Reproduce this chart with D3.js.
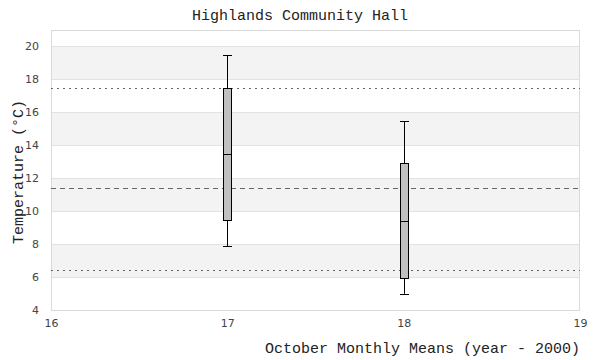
<!DOCTYPE html>
<html>
<head>
<meta charset="utf-8">
<script src="https://cdn.jsdelivr.net/npm/d3@7"></script>
<style>
  body { margin: 0; background: #fff; }
  .tick text { font-family: "DejaVu Sans", sans-serif; font-size: 11px; fill: #444; }
  .lbl { font-family: "Liberation Mono", monospace; font-size: 15px; fill: #222; }
</style>
</head>
<body>
<script>
// box plot data, one entry per year (year - 2000)
var years = [17, 18];
var whiskerLow = [7.88, 4.98];
var quartile1 = [9.45, 5.93];
var medians = [13.45, 9.4];
var quartile3 = [17.45, 12.9];
var whiskerHigh = [19.45, 15.45];

// reference lines
var refValues = [17.45, 11.4, 6.42];
var refStyles = ["dotted", "dashed", "dotted"];

var xTicks = [16, 17, 18, 19];
var yTicks = [4, 6, 8, 10, 12, 14, 16, 18, 20];
var bands = [[18, 20], [14, 16], [10, 12], [6, 8]];

var width = 600, height = 360;
var plotLeft = 51, plotRight = 580, plotTop = 30, plotBottom = 310;

var svg = d3.select("body").append("svg")
            .attr("width", width)
            .attr("height", height);

var x = d3.scaleLinear().domain([16, 19]).range([plotLeft, plotRight]);
var y = d3.scaleLinear().domain([4, 21]).range([plotBottom, plotTop - 0.5]);

// shaded bands
svg.selectAll(".band")
   .data(bands)
   .enter()
   .append("rect")
   .attr("x", plotLeft)
   .attr("width", plotRight - plotLeft)
   .attr("y", function(d) { return y(d[1]); })
   .attr("height", function(d) { return y(d[0]) - y(d[1]); })
   .attr("fill", "#f3f3f3");

// grid lines
svg.selectAll(".grid")
   .data(yTicks)
   .enter()
   .append("line")
   .attr("x1", plotLeft).attr("x2", plotRight)
   .attr("y1", function(d) { return Math.round(y(d)) + 0.5; })
   .attr("y2", function(d) { return Math.round(y(d)) + 0.5; })
   .attr("stroke", "#e2e2e2");

// plot border
svg.append("rect")
   .attr("x", plotLeft + 0.5).attr("y", plotTop + 0.5)
   .attr("width", plotRight - plotLeft - 1).attr("height", plotBottom - plotTop)
   .attr("fill", "none")
   .attr("stroke", "#dadada");

// reference lines
svg.selectAll(".ref")
   .data(refValues)
   .enter()
   .append("line")
   .attr("x1", plotLeft).attr("x2", plotRight)
   .attr("y1", function(d) { return Math.round(y(d)) + 0.5; })
   .attr("y2", function(d) { return Math.round(y(d)) + 0.5; })
   .attr("stroke", "#666")
   .attr("stroke-dasharray", function(d, i) { return refStyles[i] == "dotted" ? "2,4" : "5,4"; });

// axes
var xAxis = d3.axisBottom(x).tickValues(xTicks).tickFormat(d3.format("d")).tickSize(0).tickPadding(9);
var yAxis = d3.axisLeft(y).tickValues(yTicks).tickFormat(d3.format("d")).tickSize(0).tickPadding(12);

svg.append("g")
   .attr("transform", "translate(0," + plotBottom + ")")
   .call(xAxis)
   .call(function(g) { g.select(".domain").remove(); });

svg.append("g")
   .attr("transform", "translate(" + plotLeft + ",0)")
   .call(yAxis)
   .call(function(g) { g.select(".domain").remove(); });

// boxes
var boxW = 8;
var idx = d3.range(years.length);
var g = svg.selectAll(".box").data(idx).enter().append("g");

g.append("line")
 .attr("x1", function(i) { return Math.round(x(years[i])) + 0.5; })
 .attr("x2", function(i) { return Math.round(x(years[i])) + 0.5; })
 .attr("y1", function(i) { return y(whiskerHigh[i]); })
 .attr("y2", function(i) { return y(whiskerLow[i]); })
 .attr("stroke", "#000");

g.selectAll(".cap")
 .data(function(i) { return [whiskerLow[i], whiskerHigh[i]].map(function(v) { return [i, v]; }); })
 .enter()
 .append("line")
 .attr("x1", function(d) { return Math.round(x(years[d[0]])) - boxW / 2; })
 .attr("x2", function(d) { return Math.round(x(years[d[0]])) + boxW / 2 + 1; })
 .attr("y1", function(d) { return Math.round(y(d[1])) + 0.5; })
 .attr("y2", function(d) { return Math.round(y(d[1])) + 0.5; })
 .attr("stroke", "#000");

g.append("rect")
 .attr("x", function(i) { return Math.round(x(years[i])) - boxW / 2 + 0.5; })
 .attr("width", boxW)
 .attr("y", function(i) { return Math.round(y(quartile3[i])) + 0.5; })
 .attr("height", function(i) { return Math.round(y(quartile1[i])) - Math.round(y(quartile3[i])); })
 .attr("fill", "#c0c0c0")
 .attr("stroke", "#000");

g.append("line")
 .attr("x1", function(i) { return Math.round(x(years[i])) - boxW / 2; })
 .attr("x2", function(i) { return Math.round(x(years[i])) + boxW / 2 + 1; })
 .attr("y1", function(i) { return Math.round(y(medians[i])) + 0.5; })
 .attr("y2", function(i) { return Math.round(y(medians[i])) + 0.5; })
 .attr("stroke", "#000");

// title and axis titles
svg.append("text")
   .attr("class", "lbl")
   .attr("x", 300).attr("y", 20)
   .attr("text-anchor", "middle")
   .text("Highlands Community Hall");

svg.append("text")
   .attr("class", "lbl")
   .attr("x", 580).attr("y", 353)
   .attr("text-anchor", "end")
   .text("October Monthly Means (year - 2000)");

svg.append("text")
   .attr("class", "lbl")
   .attr("transform", "translate(23,172) rotate(-90)")
   .attr("text-anchor", "middle")
   .text("Temperature (°C)");
</script>
</body>
</html>
